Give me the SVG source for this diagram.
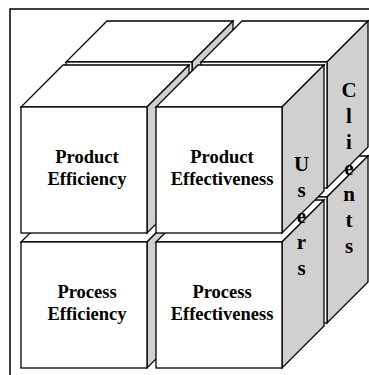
<svg xmlns="http://www.w3.org/2000/svg" width="369" height="375" viewBox="0 0 369 375">
<style>
.f{fill:#fff;stroke:#000;stroke-width:1.3;stroke-linejoin:miter}
.s{fill:#d0d0d0;stroke:#000;stroke-width:1.3}
.t{font-family:"Liberation Serif","Times New Roman",serif;font-weight:bold;font-size:18.5px;text-anchor:middle;fill:#000}
.v{font-family:"Liberation Serif","Times New Roman",serif;font-weight:bold;font-size:21px;text-anchor:middle;fill:#000}
</style>
<rect width="369" height="375" fill="#fff"/>
<rect id="frame" x="10" y="9" width="380" height="390" fill="none" stroke="#000" stroke-width="1.5"/>
<g id="back-bottom-left">
<polygon class="f" points="66,197 192,197 233,156 107,156"/>
<polygon class="s" points="192,197 233,156 233,282 192,323"/>
<rect class="f" x="66" y="197" width="126" height="126"/>
</g>
<g id="back-bottom-right">
<polygon class="f" points="201,197 327,197 368,156 242,156"/>
<polygon class="s" points="327,197 368,156 368,282 327,323"/>
<rect class="f" x="201" y="197" width="126" height="126"/>
</g>
<g id="back-top-left">
<polygon class="f" points="66,62 192,62 233,21 107,21"/>
<polygon class="s" points="192,62 233,21 233,147 192,188"/>
<rect class="f" x="66" y="62" width="126" height="126"/>
</g>
<g id="back-top-right">
<polygon class="f" points="201,62 327,62 368,21 242,21"/>
<polygon class="s" points="327,62 368,21 368,147 327,188"/>
<rect class="f" x="201" y="62" width="126" height="126"/>
</g>
<g id="process-efficiency">
<polygon class="f" points="21,242 147,242 189,200 63,200"/>
<polygon class="s" points="147,242 189,200 189,326 147,368"/>
<rect class="f" x="21" y="242" width="126" height="126"/>
</g>
<g id="process-effectiveness">
<polygon class="f" points="156,242 282,242 324,200 198,200"/>
<polygon class="s" points="282,242 324,200 324,326 282,368"/>
<rect class="f" x="156" y="242" width="126" height="126"/>
</g>
<g id="product-efficiency">
<polygon class="f" points="21,107 147,107 189,65 63,65"/>
<polygon class="s" points="147,107 189,65 189,191 147,233"/>
<rect class="f" x="21" y="107" width="126" height="126"/>
</g>
<g id="product-effectiveness">
<polygon class="f" points="156,107 282,107 324,65 198,65"/>
<polygon class="s" points="282,107 324,65 324,191 282,233"/>
<rect class="f" x="156" y="107" width="126" height="126"/>
</g>
<g id="labels">
<text class="t" x="87" y="163">Product</text>
<text class="t" x="87" y="185">Efficiency</text>
<text class="t" x="222" y="163">Product</text>
<text class="t" x="222" y="185">Effectiveness</text>
<text class="t" x="87" y="298">Process</text>
<text class="t" x="87" y="320">Efficiency</text>
<text class="t" x="222" y="298">Process</text>
<text class="t" x="222" y="320">Effectiveness</text>
</g>
<g id="users-label">
<text class="v" x="301.5" y="171">U</text>
<text class="v" x="301.5" y="197">s</text>
<text class="v" x="301.5" y="223">e</text>
<text class="v" x="301.5" y="249">r</text>
<text class="v" x="301.5" y="275">s</text>
</g>
<g id="clients-label">
<text class="v" x="349" y="97">C</text>
<text class="v" x="349" y="123">l</text>
<text class="v" x="349" y="149">i</text>
<text class="v" x="349" y="175">e</text>
<text class="v" x="349" y="201">n</text>
<text class="v" x="349" y="227">t</text>
<text class="v" x="349" y="253">s</text>
</g>
</svg>
